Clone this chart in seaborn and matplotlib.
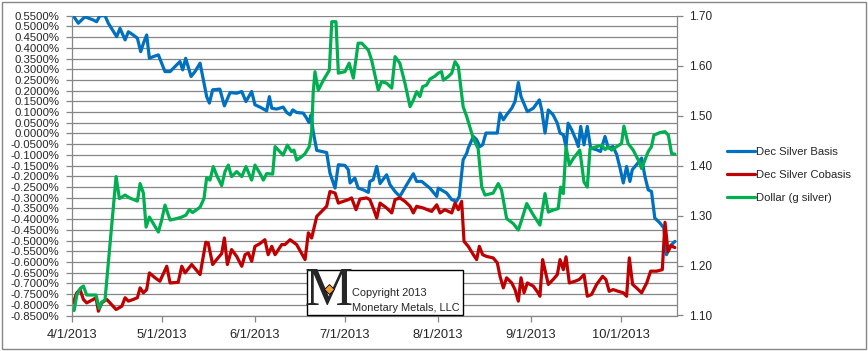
import pandas as pd
import seaborn as sns
import matplotlib.pyplot as plt
from matplotlib.ticker import MultipleLocator, FuncFormatter
from matplotlib.patches import Rectangle

# ---- data ----
start = pd.Timestamp("2013-04-01")

basis_days = [0.4, 2.1, 4.3, 7.1, 8.2, 9.3, 11, 12.1, 14.9, 16, 17.7, 18.8, 20.4, 21.8, 22.9,
              23.8, 24.9, 25.8, 27.1, 28.8, 31, 32.7, 34.3, 36, 36.9, 37.9, 39.7, 41, 42.7, 43.8,
              44.9, 45.8, 46.9, 49.3, 50.8, 52.7, 54.9, 56.6, 58, 59.9, 61, 62.7,
              64.9, 65.8, 66.6, 68.2, 70.4, 71.6, 72.7, 73.6, 74.9, 77.1, 78.2, 79, 79.7, 80.4,
              81.6, 83.2, 84.9, 86, 87.7, 88.8, 91, 92.1, 92.7, 94.3, 95.4, 97.1, 98.8, 99.3,
              100.4, 101.6, 102.7, 103.8, 104.9, 106, 107.7, 109.3, 111.6, 113.8, 114.9, 116.6,
              119.3, 121.6, 122.1, 124.9, 126.6, 128.2, 129.1, 130.4, 131.6,
              132.1, 133.8, 134.9, 136, 136.9, 138, 140.4, 141.8, 142.7, 143.8, 144.9, 146.6,
              147.7, 148.8, 149.7, 150.4, 151.8, 153.8, 155.8, 156.6, 157.7, 158.8, 160.4, 161.8,
              162.7, 163.8, 164.7, 165.4, 166.6, 168, 168.8, 169.6, 170.7, 171.8, 172.9, 174.9,
              176.2, 177.7, 178.8, 180.4, 181.6, 182.7, 183.8, 184.9, 186, 186.8, 188.2, 189.9,
              191, 192.1, 193.2, 194.3, 196, 197.3, 198.2, 199.3, 201]
basis_pct = [0.55, 0.515, 0.545, 0.530, 0.522, 0.55, 0.55, 0.515, 0.452, 0.491, 0.437, 0.475,
             0.460, 0.445, 0.382, 0.421, 0.460, 0.351, 0.359, 0.367, 0.289, 0.289, 0.312, 0.336,
             0.297, 0.351, 0.266, 0.289, 0.328, 0.250, 0.172, 0.142, 0.204, 0.207, 0.129, 0.191,
             0.188, 0.196, 0.149, 0.196, 0.134, 0.123,
             0.106, 0.172, 0.118, 0.114, 0.123, 0.098, 0.087, 0.110, 0.098, 0.095, 0.072, 0.051,
             0.087, 0.009, -0.079, -0.084, -0.089, -0.185, -0.255, -0.146, -0.149, -0.169,
             -0.231, -0.208, -0.255, -0.263, -0.275, -0.224, -0.216, -0.154, -0.234, -0.213,
             -0.193, -0.239, -0.271, -0.294, -0.239, -0.188, -0.224, -0.224, -0.255, -0.294,
             -0.255, -0.278, -0.309, -0.317, -0.294, -0.123, -0.092,
             -0.068, -0.014, -0.029, -0.061, -0.053, 0.002, 0.002, 0.002, 0.095, 0.064, 0.087,
             0.118, 0.149, 0.238, 0.172, 0.149, 0.102, 0.118, 0.157, 0.110, 0.002, 0.110, 0.087,
             0.048, 0.002, -0.006, -0.061, 0.048, 0.017, -0.029, -0.061, 0.033, -0.053, 0.033,
             -0.068, -0.076, -0.084, -0.014, -0.068, -0.061, -0.099, -0.161, -0.231, -0.154,
             -0.224, -0.169, -0.146, -0.115, -0.200, -0.263, -0.271, -0.395, -0.418, -0.441,
             -0.566, -0.527, -0.504]

cobasis_days = [0.4, 1.6, 2.7, 3.8, 4.9, 7.1, 8, 8.8, 9.9, 11.6, 13.2, 14.7, 16.6, 17.7, 18.8,
                20.4, 21.8, 22.7, 23.8, 24.9, 25.8, 27.7, 29.3, 31.6, 32.7, 35.4, 36.6, 37.7,
                39.9, 42.7, 44.6, 45.4, 46.9, 48.2, 49.9, 50.8, 51.8, 53.2, 54.9, 56.6, 57.7,
                58.8, 59.9, 61, 62.7,
                64.3, 65.4, 66.6, 67.7, 69.9, 71, 72.7, 74.9, 77.7, 78.8, 79.9, 81.6, 83.2, 84.9,
                86, 87.7, 88.8, 90.4, 92.1, 93.2, 94.7, 96, 98.2, 99.3, 100.4, 101.6, 102.7,
                104.9, 106.6, 107.7, 109.3, 111, 112.7, 113.8, 114.9, 117.1, 119.9, 121.6, 122.7,
                124.3, 126.6, 127.7, 128.8, 129.9,
                130.7, 132.1, 133.8, 134.9, 135.8, 136.9, 138.2, 140.4, 141.8, 142.7, 143.8,
                144.9, 146.6, 147.7, 148.8, 149.7, 150.7, 151.8, 153.8, 155.4, 156, 156.9, 158.8,
                160.4, 161.8, 162.7, 163.8, 164.7, 165.8, 167.7, 169.1, 170.7, 171.8, 173.2,
                174.9, 176.9, 178, 179.1, 180.4, 182.1, 183.8, 184.9, 185.8, 186.9, 188.2, 189.9,
                191.6, 192.9, 194.9, 196.8, 197.7, 198.7, 199.7, 201]
cobasis_pct = [-0.791, -0.744, -0.729, -0.775, -0.791, -0.775, -0.767, -0.830, -0.791, -0.775,
               -0.799, -0.822, -0.807, -0.767, -0.783, -0.775, -0.767, -0.721, -0.744, -0.729,
               -0.651, -0.674, -0.690, -0.620, -0.698, -0.695, -0.620, -0.651, -0.612, -0.659,
               -0.508, -0.511, -0.612, -0.589, -0.561, -0.488, -0.612, -0.542, -0.574, -0.620,
               -0.566, -0.558, -0.597, -0.527, -0.514,
               -0.496, -0.566, -0.527, -0.566, -0.519, -0.519, -0.496, -0.519, -0.589, -0.464,
               -0.488, -0.387, -0.364, -0.340, -0.271, -0.278, -0.325, -0.317, -0.309, -0.301,
               -0.356, -0.306, -0.301, -0.309, -0.348, -0.395, -0.325, -0.348, -0.371, -0.309,
               -0.301, -0.317, -0.340, -0.371, -0.340, -0.348, -0.364, -0.333, -0.371, -0.356,
               -0.371, -0.325, -0.356, -0.317,
               -0.504, -0.527, -0.566, -0.589, -0.527, -0.566, -0.574, -0.581, -0.604, -0.667,
               -0.721, -0.674, -0.698, -0.729, -0.783, -0.674, -0.744, -0.698, -0.713, -0.744,
               -0.760, -0.589, -0.705, -0.682, -0.659, -0.589, -0.636, -0.576, -0.698, -0.690,
               -0.682, -0.659, -0.760, -0.752, -0.705, -0.667, -0.682, -0.737, -0.729, -0.737,
               -0.744, -0.760, -0.581, -0.705, -0.721, -0.744, -0.698, -0.643, -0.643, -0.636,
               -0.415, -0.552, -0.524, -0.533]

dollar_days = [0.7, 1.6, 2.7, 3.8, 4.9, 7.1, 8, 9.1, 9.9, 11, 14.7, 15.8, 17.7, 19.3, 21.8, 22.7,
               23.8, 24.7, 25.8, 27.1, 28.8, 29.9, 31, 32.7, 34.9, 36.6, 38, 39.1, 40.2, 41.6,
               42.7, 44, 44.9, 46, 47.1, 48.2, 49.9, 51, 52.1, 53.2, 54.9, 56.6, 58, 59.9, 61,
               62.7,
               63.8, 64.9, 66.9, 67.7, 69.3, 70.4, 71.8, 73.2, 74, 74.9, 76.6, 77.7, 79.1, 79.9,
               80.4, 81, 82.1, 83.8, 85.8, 86.6, 88, 88.8, 91, 92.4, 93.8, 95.4, 96.6, 98.8, 99.9,
               101, 102.1, 103.2, 104.9, 106.6, 107.7, 109.3, 111, 112.7, 113.8, 114.9, 116,
               116.9, 118.2, 119.3, 121, 122.1, 123.2, 123.8, 125.4, 126.6, 127.7, 128.8, 130.4,
               131.6,
               133.8, 135.4, 136.6, 137.7, 140.4, 142.1, 143.2, 144.9, 147.1, 148.8, 149.9, 151.6,
               153.8, 156, 157.7, 158.8, 160.4, 162.1, 162.9, 163.8, 164.7, 165.8, 167.1, 169.3,
               170.7, 171.8, 172.7, 174.9, 176.6, 177.7, 178.8, 179.9, 181.6, 183.2, 184, 185.4,
               187.1, 188.8, 189.9, 191, 192.1, 193.2, 194, 196, 197.7, 198.8, 199.9, 201]
dollar_g = [1.110, 1.141, 1.154, 1.159, 1.141, 1.141, 1.141, 1.114, 1.127, 1.131, 1.378, 1.334,
            1.341, 1.335, 1.329, 1.364, 1.345, 1.277, 1.297, 1.284, 1.267, 1.291, 1.321, 1.291,
            1.294, 1.297, 1.301, 1.312, 1.306, 1.312, 1.317, 1.334, 1.376, 1.371, 1.398, 1.381,
            1.360, 1.388, 1.401, 1.378, 1.388, 1.378, 1.398, 1.371, 1.401, 1.384,
            1.371, 1.384, 1.383, 1.438, 1.428, 1.421, 1.441, 1.428, 1.431, 1.411, 1.418, 1.424,
            1.438, 1.468, 1.545, 1.588, 1.551, 1.571, 1.591, 1.688, 1.688, 1.585, 1.588, 1.605,
            1.575, 1.645, 1.645, 1.631, 1.611, 1.581, 1.551, 1.568, 1.565, 1.555, 1.618, 1.605,
            1.565, 1.518, 1.531, 1.548, 1.538, 1.558, 1.561, 1.573, 1.579, 1.585, 1.588, 1.571,
            1.578, 1.585, 1.608, 1.598, 1.518, 1.498,
            1.454, 1.434, 1.357, 1.341, 1.345, 1.364, 1.351, 1.294, 1.284, 1.271, 1.291, 1.324,
            1.301, 1.281, 1.344, 1.307, 1.311, 1.314, 1.357, 1.344, 1.438, 1.401, 1.414, 1.431,
            1.367, 1.357, 1.434, 1.438, 1.441, 1.432, 1.438, 1.431, 1.438, 1.444, 1.479, 1.444,
            1.431, 1.411, 1.394, 1.411, 1.428, 1.438, 1.461, 1.466, 1.468, 1.461, 1.424, 1.423]

month_ticks = ["2013-04-01", "2013-05-01", "2013-06-01", "2013-07-01",
               "2013-08-01", "2013-09-01", "2013-10-01"]
month_labels = ["4/1/2013", "5/1/2013", "6/1/2013", "7/1/2013",
                "8/1/2013", "9/1/2013", "10/1/2013"]

to_date = lambda d: start + pd.to_timedelta(d, unit="D")

# ---- plot ----
sns.set_style("white")
plt.rcParams["font.family"] = ["Liberation Sans", "DejaVu Sans"]
grid_c = "#868686"

fig = plt.figure(figsize=(8.68, 3.51), dpi=100)
ax = fig.add_axes([72 / 868, 35.5 / 351, 605 / 868, 299.8 / 351])
ax2 = ax.twinx()

sns.lineplot(x=to_date(basis_days), y=basis_pct, ax=ax, color="#0070C0", lw=2.3,
             label="Dec Silver Basis", legend=False)
sns.lineplot(x=to_date(cobasis_days), y=cobasis_pct, ax=ax, color="#C00000", lw=2.3,
             label="Dec Silver Cobasis", legend=False)
sns.lineplot(x=to_date(dollar_days), y=dollar_g, ax=ax2, color="#00B050", lw=2.3,
             label="Dollar (g silver)", legend=False)

ax.set_xlim(start, to_date(201.7))
ax.set_ylim(-0.85, 0.55)
ax2.set_ylim(1.10, 1.70)

ax.yaxis.set_major_locator(MultipleLocator(0.05))
ax.yaxis.set_major_formatter(FuncFormatter(lambda v, p: f"{round(v, 6) + 0.0:.4f}%"))
ax2.yaxis.set_major_locator(MultipleLocator(0.10))
ax2.yaxis.set_major_formatter(FuncFormatter(lambda v, p: f"{v:.2f}"))
ax.set_xticks(pd.to_datetime(month_ticks))
ax.set_xticklabels(month_labels)

ax.grid(axis="y", color=grid_c, lw=0.9)
ax.set_axisbelow(True)
ax.set_xlabel("")
ax.set_ylabel("")
ax2.set_ylabel("")

for a in (ax, ax2):
    for s in a.spines.values():
        s.set_visible(False)
ax.spines["left"].set_visible(True)
ax.spines["bottom"].set_visible(True)
ax2.spines["right"].set_visible(True)
for s in (ax.spines["left"], ax.spines["bottom"], ax2.spines["right"]):
    s.set_color(grid_c)
    s.set_linewidth(0.9)

ax.tick_params(axis="y", direction="out", length=4, width=0.9, color=grid_c,
               labelsize=8.2, pad=5, left=True)
ax.tick_params(axis="x", direction="out", length=4, width=0.9, color=grid_c,
               labelsize=9.3, pad=6, bottom=True)
ax2.tick_params(axis="y", direction="out", length=4, width=0.9, color=grid_c,
                labelsize=8.5, pad=5, right=True)

handles = ax.get_lines()[:2] + ax2.get_lines()[:1]
fig.legend(handles, [h.get_label() for h in handles], loc="center left",
           bbox_to_anchor=(727 / 868, 1 - 175 / 351), frameon=False, fontsize=8.1,
           handlelength=2.5, handletextpad=0.1, labelspacing=1.15,
           borderpad=0, borderaxespad=0)

# watermark box
fig.add_artist(Rectangle((307 / 868, 1 - 315 / 351), 156 / 868, 45 / 351,
                         transform=fig.transFigure, facecolor="white",
                         edgecolor="black", lw=1, zorder=5))
fig.text(329 / 868, 1 - 292 / 351, "M", family=["Liberation Serif", "DejaVu Serif"],
         fontsize=39, ha="center", va="center", zorder=6)
fig.add_artist(plt.Line2D([329 / 868], [1 - 289 / 351], marker="D", markersize=5,
                          markerfacecolor="#F0A030", markeredgecolor="black",
                          markeredgewidth=0.6, transform=fig.transFigure, zorder=7))
fig.text(352 / 868, 1 - 293 / 351, "Copyright 2013", fontsize=7.9, va="center", zorder=6)
fig.text(352 / 868, 1 - 308 / 351, "Monetary Metals, LLC", fontsize=7.9, va="center", zorder=6)

# chart border
fig.add_artist(Rectangle((2 / 868, 2 / 351), 864 / 868, 347 / 351, transform=fig.transFigure,
                         facecolor="none", edgecolor=grid_c, lw=1, zorder=10))

fig.savefig("out.png", dpi=100)
